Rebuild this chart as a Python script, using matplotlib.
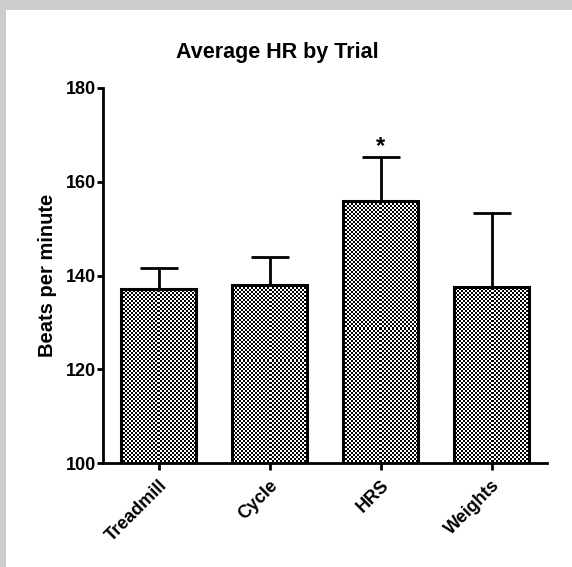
import numpy as np
import matplotlib.pyplot as plt
from matplotlib.patches import Rectangle

plt.rcParams['font.family'] = ['Liberation Sans', 'DejaVu Sans']
plt.rcParams['font.weight'] = 'bold'

# data
trials = ['Treadmill', 'Cycle', 'HRS', 'Weights']
mean_hr = [137.1, 138.0, 155.9, 137.5]
sd_hr = [4.5, 5.9, 9.4, 15.8]
yticks = [100, 120, 140, 160, 180]

W, H = 572, 567
fig = plt.figure(figsize=(W / 100, H / 100), dpi=100, facecolor='#cccccc')
# white panel inside the grey frame
fig.patches.append(Rectangle((6 / W, 0), 1, 1 - 10 / H, transform=fig.transFigure,
                             facecolor='white', edgecolor='none', zorder=-2))

ax = fig.add_axes([103 / W, 1 - 463 / H, 444 / W, 375 / H])
ax.set_facecolor('none')

x = np.arange(len(trials))
bars = ax.bar(x, mean_hr, width=0.68, facecolor='none',
              edgecolor='black', linewidth=2.2, zorder=2)
ax.errorbar(x, mean_hr, yerr=[np.zeros(len(sd_hr)), sd_hr], fmt='none',
            ecolor='black', elinewidth=2, capsize=14, capthick=2, zorder=1)

# checkerboard fill (2 px squares), clipped to each bar and the axes
ii, jj = np.indices((375, 444))
checker = (((ii // 2) + (jj // 2)) % 2).astype(float)
for b in bars:
    im = ax.imshow(checker, cmap='gray', vmin=0, vmax=1, extent=(0, 1, 0, 1),
                   transform=ax.transAxes, interpolation='nearest',
                   aspect='auto', zorder=1.5)
    im.set_clip_path(b)

ax.text(x[2], mean_hr[2] + sd_hr[2] - 0.2, '*', ha='center', va='bottom',
        fontsize=17, fontweight='bold')

ax.set_xlim(-0.5, 3.5)
ax.set_ylim(100, 180)
ax.set_yticks(yticks)
ax.set_xticks(x)
ax.set_xticklabels(trials, rotation=45, ha='right', rotation_mode='anchor',
                   fontsize=13, fontweight='bold')
ax.tick_params(axis='y', direction='out', length=4, width=2, labelsize=13, pad=1)
ax.tick_params(axis='x', direction='out', length=5, width=2, pad=5)
for s in ['top', 'right']:
    ax.spines[s].set_visible(False)
for s in ['left', 'bottom']:
    ax.spines[s].set_linewidth(2)
ax.set_ylabel('Beats per minute', fontsize=14.5, fontweight='bold')
ax.yaxis.set_label_coords(-0.104, 0.5)

fig.text(277 / W, 1 - 58 / H, 'Average HR by Trial', ha='center', va='baseline',
         fontsize=15.5, fontweight='bold')

fig.savefig('out.png', dpi=100, facecolor=fig.get_facecolor())
